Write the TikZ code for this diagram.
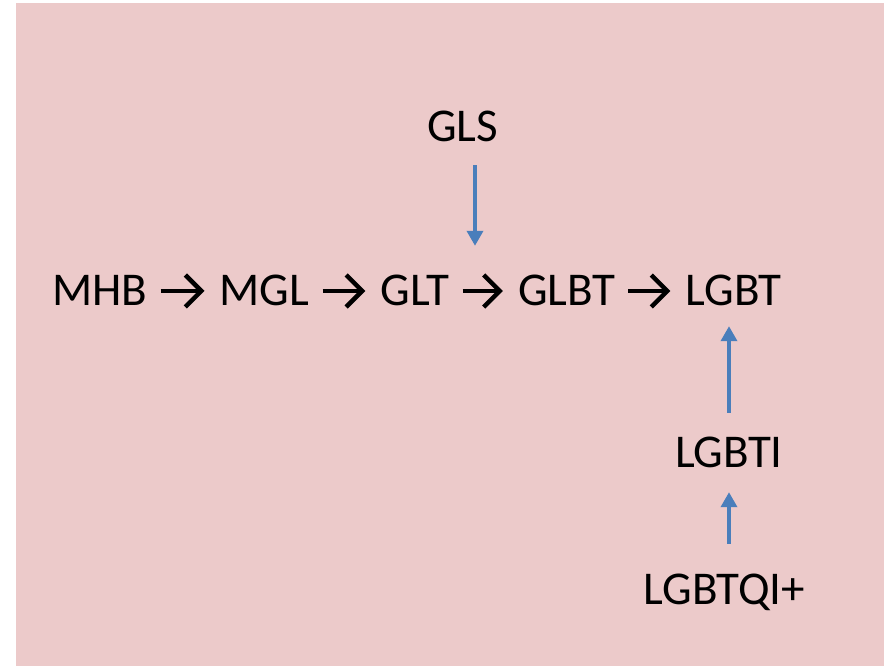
\documentclass[tikz,border=0pt]{standalone}
\usepackage{fontspec}
\setmainfont{Carlito}
\usetikzlibrary{arrows.meta}
\definecolor{bgpink}{RGB}{236,202,202}
\definecolor{linkblue}{RGB}{74,126,187}
\tikzset{
  term/.style={anchor=base, inner sep=0pt, text height=30pt, text depth=0pt,
    font=\fontsize{47}{56}\selectfont, text=black},
  stage/.style={line width=4.5pt, -{Straight Barb[length=16pt, width=32pt, line width=4.5pt]},
    shorten <=13pt, shorten >=15pt},
  feed/.style={linkblue, line width=3.5pt, -{Triangle[length=15pt, width=16pt]}}
}
\begin{document}
\begin{tikzpicture}[x=1pt, y=1pt]
  \useasboundingbox (0,0) rectangle (884,666);
  \fill[bgpink] (16,0) rectangle (884,663);

  % main chain of names
  \node[term] (mhb)  at (100,360)   {MHB};
  \node[term] (mgl)  at (264.5,360) {MGL};
  \node[term] (glt)  at (415,360)   {GLT};
  \node[term] (glbt) at (566.5,360) {GLBT};
  \node[term] (lgbt) at (733.5,360) {LGBT};

  % side names
  \node[term] (gls)    at (462.5,524) {GLS};
  \node[term] (lgbti)  at (729,198)   {LGBTI};
  \node[term] (lgbtqi) at (724.5,61)  {LGBTQI+};

  % black chevron arrows along the chain
  \draw[stage] (mhb.east)  -- (mgl.west);
  \draw[stage] (mgl.east)  -- (glt.west);
  \draw[stage] (glt.east)  -- (glbt.west);
  \draw[stage] (glbt.east) -- (lgbt.west);

  % blue feeder arrows
  \coordinate (glsx) at (475,524);
  \draw[feed, shorten <=23pt, shorten >=30pt] (gls.south -| glsx) -- (glt.north -| glsx);
  \draw[feed, shorten <=25pt, shorten >=20pt] (lgbti.north) -- (lgbt.south -| lgbti.north);
  \draw[feed, shorten <=31pt, shorten >=24pt] (lgbtqi.north -| lgbti.south) -- (lgbti.south);
\end{tikzpicture}
\end{document}
